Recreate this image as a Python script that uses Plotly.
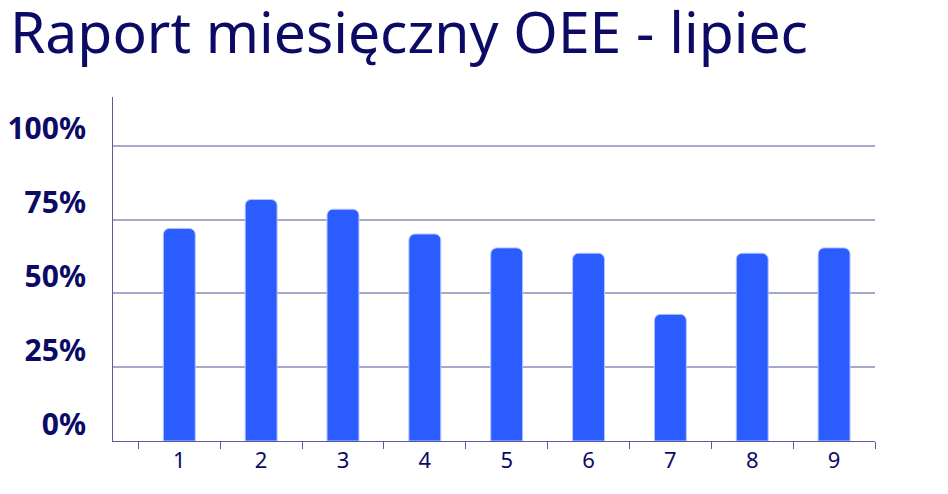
import plotly.graph_objects as go

categories = ["1", "2", "3", "4", "5", "6", "7", "8", "9"]
oee_values = [72.0, 81.8, 78.5, 70.1, 65.4, 63.6, 42.9, 63.6, 65.4]
y_tick_values = [0, 25, 50, 75, 100]
y_tick_labels = ["0%", "25%", "50%", "75%", "100%"]

navy = "#0b0b66"
fig = go.Figure(
    go.Bar(
        x=categories,
        y=oee_values,
        width=0.39,
        marker=dict(color="#2b5cff", cornerradius=6,
                    line=dict(color="#b8c4ff", width=1)),
        hoverinfo="skip",
    )
)

fig.update_layout(
    width=948,
    height=494,
    paper_bgcolor="white",
    plot_bgcolor="white",
    margin=dict(l=105, r=81, t=89, b=61, autoexpand=False),
    showlegend=False,
    title=dict(
        text="Raport miesięczny OEE - lipiec",
        font=dict(family="Noto Sans, Open Sans, sans-serif", size=57, color=navy),
        x=0.002, xanchor="left", xref="container",
        y=0.99, yanchor="top", yref="container",
        pad=dict(t=0, l=0),
    ),
)

fig.update_xaxes(
    type="category",
    range=[-0.81, 8.5],
    tickson="boundaries",
    ticks="outside",
    ticklen=7,
    tickcolor="#5a5aa0",
    showline=True,
    linecolor="#5a5aa0",
    linewidth=1,
    showgrid=False,
    automargin=False,
    tickfont=dict(family="Noto Sans, Open Sans, sans-serif", size=22, color=navy),
)

fig.update_yaxes(
    range=[0, 116.5],
    tickvals=y_tick_values,
    ticktext=y_tick_labels,
    showline=True,
    linecolor="#5a5aa0",
    linewidth=1,
    showgrid=True,
    gridcolor="#a8a8cc",
    gridwidth=1.5,
    zeroline=False,
    ticks="",
    automargin=False,
    ticklabelstandoff=20,
    ticklabelshift=-17,
    tickfont=dict(family="Noto Sans, Open Sans, sans-serif", size=30, color=navy, weight="bold"),
)

fig.write_html("out.html")
